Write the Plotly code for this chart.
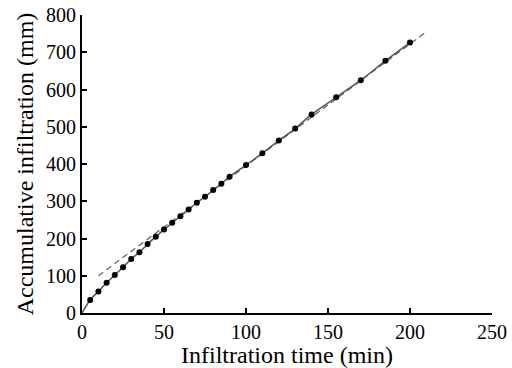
import plotly.graph_objects as go

# Measured data
time_min = [5, 10, 15, 20, 25, 30, 35, 40, 45, 50, 55, 60, 65, 70, 75, 80, 85, 90,
            100, 110, 120, 130, 140, 155, 170, 185, 200]
infil_mm = [35, 58, 81, 102, 123, 145, 163, 185, 205, 224, 242, 260, 278, 296, 312, 330, 347, 366,
            397, 429, 463, 495, 533, 579, 625, 677, 726]

# Curve through observations (starting at origin)
curve_t = [0] + time_min
curve_i = [0] + infil_mm

# Linear (dashed) fit endpoints
lin_t = [10, 210]
lin_i = [100, 755]

x_ticks = [0, 50, 100, 150, 200, 250]
y_ticks = [0, 100, 200, 300, 400, 500, 600, 700, 800]

font_family = "Liberation Serif, Times New Roman, serif"

fig = go.Figure()
fig.add_trace(go.Scatter(x=lin_t, y=lin_i, mode="lines",
                         line=dict(color="#666666", width=1.3, dash="6px,4px"),
                         showlegend=False))
fig.add_trace(go.Scatter(x=curve_t, y=curve_i, mode="lines", line_shape="spline",
                         line=dict(color="#555555", width=1.5), showlegend=False))
fig.add_trace(go.Scatter(x=time_min, y=infil_mm, mode="markers",
                         marker=dict(color="black", size=6), showlegend=False,
                         cliponaxis=False))

fig.update_layout(
    width=512, height=368,
    margin=dict(l=82, r=20, t=15, b=55, autoexpand=False),
    paper_bgcolor="white", plot_bgcolor="white",
    font=dict(family=font_family, size=20, color="black"),
)
fig.update_xaxes(range=[0, 250], tickvals=x_ticks, ticks="inside", ticklen=5, tickwidth=2,
                 tickcolor="black", showline=True, linecolor="black", linewidth=2,
                 showgrid=False, zeroline=False, automargin=False,
                 ticklabeloverflow="allow",
                 title=dict(text="Infiltration time (min)", standoff=2),
                 tickfont=dict(size=20))
fig.update_yaxes(range=[0, 800], tickvals=y_ticks, ticks="inside", ticklen=5, tickwidth=2,
                 tickcolor="black", showline=True, linecolor="black", linewidth=2,
                 showgrid=False, zeroline=False, automargin=False,
                 ticklabeloverflow="allow",
                 title=dict(text="Accumulative infiltration (mm)", standoff=6),
                 tickfont=dict(size=20))

fig.write_html(
    "out.html",
    config={"displayModeBar": False},
    post_script="document.body.style.margin='0';document.body.style.overflow='hidden';",
)
